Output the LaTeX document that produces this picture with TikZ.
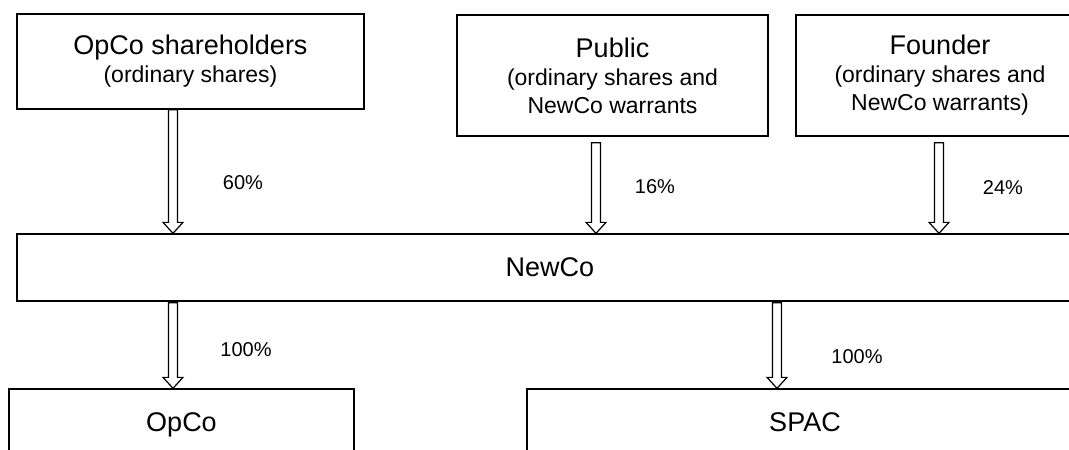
\documentclass[tikz,border=0pt]{standalone}
\usepackage{fontspec}
\setmainfont{Liberation Sans}
\usetikzlibrary{calc}
\newcommand{\subt}{\fontsize{23}{28}\selectfont}

\begin{document}
\begin{tikzpicture}[x=1pt,y=-1pt,
  box/.style={draw, line width=1.3pt, align=center, inner sep=0pt, font=\fontsize{27}{28}\selectfont},
  pct/.style={font=\fontsize{20}{24}\selectfont},
  share/.style={draw, line width=1.2pt, to path={($(\tikztostart)+(-4.5,0)$) -- ($(\tikztotarget)+(-4.5,-11)$) -- ($(\tikztotarget)+(-10,-11)$) -- (\tikztotarget) -- ($(\tikztotarget)+(10,-11)$) -- ($(\tikztotarget)+(4.5,-11)$) -- ($(\tikztostart)+(4.5,0)$) -- cycle}}]
\useasboundingbox (0,0) rectangle (1069,450);
\clip (0,0) rectangle (1069,450);
\node[box, minimum width=347pt, minimum height=95pt] (1) at (190.5,61.5) {OpCo shareholders\\\subt (ordinary shares)};
\node[box, minimum width=311pt, minimum height=121pt] (2) at (612.5,75.5) {Public\\\subt (ordinary shares and\\\subt NewCo warrants};
\node[box, minimum width=288pt, minimum height=121pt] (3) at (940,75.5) {Founder\\\subt (ordinary shares and\\\subt NewCo warrants)};
\node[box, minimum width=1066pt, minimum height=67pt] (4) at (550,267.5) {NewCo};
\node[box, minimum width=345pt, minimum height=72pt, text height=19pt, text depth=6pt] (5) at (181.5,425) {OpCo};
\node[box, minimum width=556pt, minimum height=72pt, text height=19pt, text depth=6pt] (6) at (805,425) {SPAC};
\path[share] (1.south -| 173,0) to (4.north -| 173,0);
\path[share] ($(2.south -| 596,0)+(0,6)$) to (4.north -| 596,0);
\path[share] ($(3.south -| 939,0)+(0,6)$) to (4.north -| 939,0);
\path[share] ($(4.south -| 173,0)+(0,1)$) to (5.north -| 173,0);
\path[share] ($(4.south -| 777,0)+(0,1)$) to (6.north -| 777,0);
\node[pct] (7) at (243,183) {60\%};
\node[pct] (8) at (655,187) {16\%};
\node[pct] (9) at (1003,188) {24\%};
\node[pct] (10) at (246,350) {100\%};
\node[pct] (11) at (857,357) {100\%};
\end{tikzpicture}
\end{document}
